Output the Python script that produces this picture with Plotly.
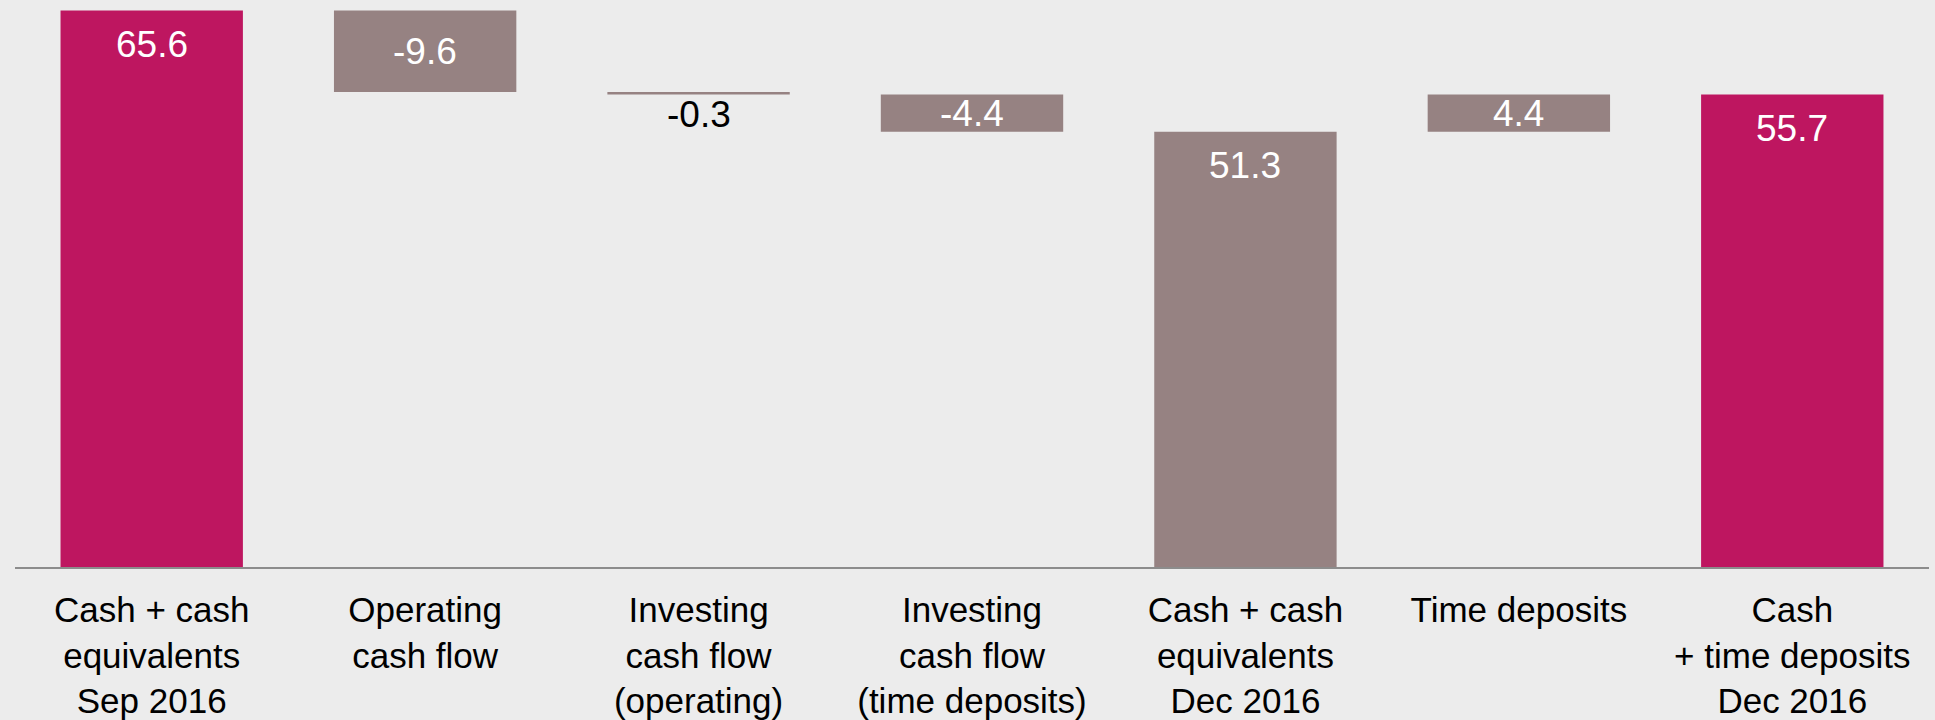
import plotly.graph_objects as go

categories = [
    "Cash + cash<br>equivalents<br>Sep 2016",
    "Operating<br>cash flow",
    "Investing<br>cash flow<br>(operating)",
    "Investing<br>cash flow<br>(time deposits)",
    "Cash + cash<br>equivalents<br>Dec 2016",
    "Time deposits",
    "Cash<br>+ time deposits<br>Dec 2016",
]
values = [65.6, -9.6, -0.3, -4.4, 51.3, 4.4, 55.7]
kinds = ["total", "delta", "delta", "delta", "total", "delta", "total"]
value_labels = ["65.6", "-9.6", "-0.3", "-4.4", "51.3", "4.4", "55.7"]

# style config
PINK = "#BE1660"
MAUVE = "#968282"
bar_colors = [PINK, MAUVE, MAUVE, MAUVE, MAUVE, MAUVE, PINK]
BG = "#ECECEC"
FONT = "Arial, Liberation Sans, sans-serif"

# compute bases for the waterfall
bases, heights = [], []
running = 0.0
for v, k in zip(values, kinds):
    if k == "total":
        bases.append(0.0)
        heights.append(v)
        running = v
    else:
        bases.append(running)
        heights.append(v)
        running += v

xs = list(range(len(categories)))

fig = go.Figure()
fig.add_trace(go.Bar(
    x=xs, y=heights, base=bases,
    marker=dict(color=bar_colors, line=dict(width=0)),
    hoverinfo="skip",
))

annotations = []
for i, (b, h, k, lab) in enumerate(zip(bases, heights, kinds, value_labels)):
    top = max(b, b + h)
    bottom = min(b, b + h)
    if k == "total":
        annotations.append(dict(x=i, y=top, text=lab, showarrow=False, yanchor="middle",
                                yshift=-34, font=dict(color="white", size=37, family=FONT)))
    elif abs(h) >= 2:
        annotations.append(dict(x=i, y=(top + bottom) / 2, text=lab, showarrow=False,
                                yanchor="middle", font=dict(color="white", size=37, family=FONT)))
    else:
        annotations.append(dict(x=i, y=bottom, text=lab, showarrow=False, yanchor="middle",
                                yshift=-20, font=dict(color="black", size=37, family=FONT)))

fig.update_layout(
    width=1935, height=720,
    margin=dict(l=15, r=6, t=0, b=153, autoexpand=False),
    paper_bgcolor=BG, plot_bgcolor=BG,
    bargap=0.333,
    showlegend=False,
    annotations=annotations,
    xaxis=dict(
        tickmode="array", tickvals=xs, ticktext=categories,
        range=[-0.5, len(categories) - 0.5],
        showline=True, linecolor="#8C8C8C", linewidth=2,
        showgrid=False, zeroline=False, automargin=False,
        ticks="outside", ticklen=11, tickcolor="rgba(0,0,0,0)",
        tickfont=dict(size=35, color="black", family=FONT),
    ),
    yaxis=dict(range=[0, 66.84], visible=False, showgrid=False, zeroline=False,
               automargin=False),
)

fig.write_html(
    "out.html",
    config={"displayModeBar": False},
    post_script="document.body.style.margin='0px';document.body.style.overflow='hidden';",
)
